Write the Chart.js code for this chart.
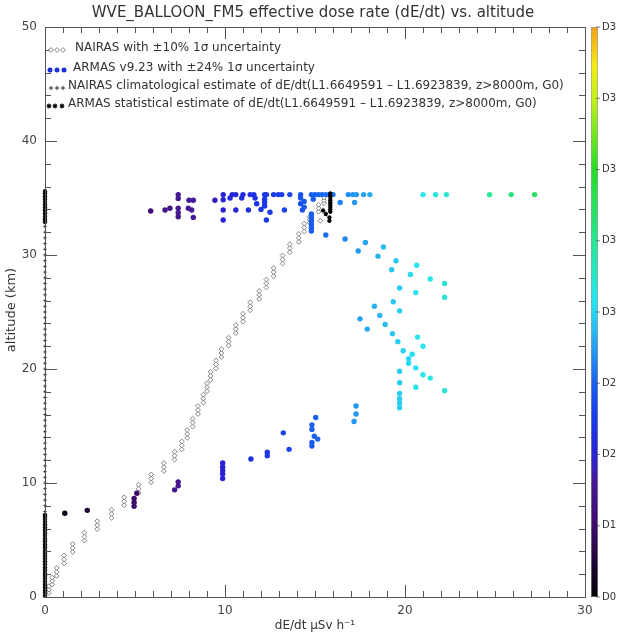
<!DOCTYPE html>
<html>
<head>
<meta charset="utf-8">
<script src="https://cdn.jsdelivr.net/npm/chart.js@4.4.0/dist/chart.umd.min.js"></script>
<style>
  html, body { margin: 0; padding: 0; background: #fff; }
</style>
</head>
<body>
<canvas id="grafico" width="625" height="637"></canvas>
<script>
// NAIRAS diamonds: one x per altitude group, the altitudes of the group
const nairasX = [0.22, 0.4, 0.65, 1.06, 1.54, 2.19, 2.9, 3.7, 4.4, 5.2, 5.9, 6.6, 7.2, 7.6, 7.9, 8.2, 8.5, 8.8,
  9.0, 9.2, 9.5, 9.8, 10.2, 10.6, 11.0, 11.4, 11.9, 12.3, 12.7, 13.2, 13.6, 14.1, 14.4, 14.7, 15.2, 15.5, 15.3];
const nairasY = [
  [0.35, 0.65, 0.95], [1.1, 1.4, 1.7], [1.85, 2.2, 2.55], [2.95, 3.3, 3.65], [3.95, 4.3, 4.65],
  [4.95, 5.3, 5.65], [5.95, 6.3, 6.65], [6.95, 7.3, 7.65], [8.05, 8.4, 8.75], [9.15, 9.5, 9.85],
  [10.05, 10.4, 10.75], [11.05, 11.4, 11.75], [12.05, 12.4, 12.75], [12.95, 13.3, 13.65], [13.95, 14.3, 14.65],
  [14.95, 15.3, 15.65], [16.05, 16.4, 16.75], [17.05, 17.4, 17.75], [18.05, 18.4, 18.75], [19.05, 19.4, 19.75],
  [20.05, 20.4, 20.75], [21.05, 21.4, 21.75], [22.05, 22.4, 22.75], [23.15, 23.5, 23.85], [24.15, 24.5, 24.85],
  [25.15, 25.5, 25.85], [26.15, 26.5, 26.85], [27.15, 27.5, 27.85], [28.15, 28.5, 28.85], [29.25, 29.6, 29.95],
  [30.25, 30.6, 30.95], [31.15, 31.5, 31.85], [32.05, 32.4, 32.75], [32.85, 33.1, 33.35], [33.8, 34.1, 34.4],
  [34.55, 34.8, 35.05], [33.0]
];

// ARMAS measurements (dE/dt, altitude)
const armasX = [
  1.1, 2.35, 4.95, 4.95, 4.95, 5.1, 7.2, 7.4, 7.4, 9.87, 9.87, 9.87, 9.87, 9.87, 11.44, 12.35, 12.35,
  13.24, 13.56, 14.83, 14.83, 15.15, 14.96, 14.83, 14.83, 15.04, 17.17, 17.28, 17.28,
  19.7, 19.7, 19.7, 19.7, 22.2, 20.6, 19.7, 21.4, 21.0, 19.7, 20.6, 20.2, 20.2, 20.4, 19.9, 21.0, 19.6,
  20.7, 19.3, 17.9, 18.9, 17.5, 18.6, 19.7, 18.3, 19.35, 22.2, 20.6, 19.7, 22.2, 21.4, 20.3, 19.26,
  20.65, 19.5, 18.5, 17.4, 18.8, 17.8, 16.67, 15.6,
  14.8, 14.8, 14.8, 14.8, 14.8, 14.8,
  7.4, 9.9, 10.4, 10.6, 11.0, 11.4, 11.6, 12.2, 12.3, 12.7, 12.96, 13.15, 13.6, 14.2, 14.8, 15.0, 15.2,
  15.4, 15.6, 15.8, 16.0, 16.85, 17.1, 17.3, 17.7, 18.05, 21.0, 21.7, 22.3, 24.7, 25.9, 27.2,
  7.4, 8.0, 8.24, 9.44, 9.9, 10.28, 10.93, 11.67, 11.76, 12.2, 12.2, 12.2, 14.2, 14.2, 14.4, 14.9, 16.4, 17.2,
  5.87, 6.67, 6.94, 7.4, 7.4, 7.4, 7.96, 8.15, 8.24, 9.9, 10.6, 11.3, 12.0, 12.5, 13.3, 14.3, 14.4,
  9.9, 12.3
];
const armasY = [
  7.35, 7.6, 7.95, 8.3, 8.65, 9.1, 9.4, 9.75, 10.1, 10.4, 10.8, 11.1, 11.4, 11.75, 12.1, 12.4, 12.7,
  14.4, 12.95, 13.25, 13.55, 13.85, 14.1, 14.7, 15.1, 15.75, 15.4, 16.05, 16.75,
  16.6, 17.0, 17.4, 17.85, 18.1, 18.4, 18.8, 19.2, 19.5, 19.8, 20.1, 20.5, 20.9, 21.3, 21.6, 22.0, 22.4,
  22.8, 23.1, 23.5, 23.9, 24.4, 24.7, 25.1, 25.5, 25.9, 26.3, 26.7, 27.1, 27.5, 27.9, 28.3, 28.7,
  29.1, 29.5, 29.9, 30.35, 30.7, 31.1, 31.4, 31.75,
  32.1, 32.4, 32.7, 33.0, 33.3, 33.6,
  35.3, 35.3, 35.3, 35.3, 35.3, 35.3, 35.3, 35.3, 35.3, 35.3, 35.3, 35.3, 35.3, 35.3, 35.3, 35.3, 35.3,
  35.3, 35.3, 35.3, 35.3, 35.3, 35.3, 35.3, 35.3, 35.3, 35.3, 35.3, 35.3, 35.3, 35.3, 35.3,
  34.95, 34.8, 34.8, 34.8, 34.85, 35.0, 35.0, 35.0, 34.5, 34.9, 34.6, 34.3, 35.0, 34.5, 34.7, 34.9, 34.6, 34.6,
  33.86, 33.95, 34.1, 34.1, 33.7, 33.35, 34.1, 33.95, 33.3, 33.95, 33.95, 33.95, 34.0, 33.75, 33.95, 33.95, 34.2,
  33.07, 33.07
];

// NAIRAS climatological (+) along the left axis
const climY = [0.5, 1, 1.5, 2, 2.5, 3, 3.5, 4, 4.5, 5, 5.5, 6, 6.5, 7, 7.5, 8, 8.5, 9, 9.5, 10, 10.5, 11, 11.5, 12,
  12.5, 13, 13.5, 14, 14.5, 15, 15.5, 16, 16.5, 17, 17.5, 18, 18.5, 19, 19.5, 20, 20.5, 21, 21.5, 22, 22.5, 23,
  23.5, 24, 24.5, 25, 25.5, 26, 26.5, 27, 27.5, 28, 28.5, 29, 29.5, 30, 30.5, 31, 31.5, 32, 32.5, 33, 33.5, 34,
  34.5, 35, 35.5];
// ARMAS statistical (*)
const statX = [0, 0, 0, 0, 0, 0, 0, 0, 0, 0, 0, 0, 0, 0, 0, 0, 0, 0, 0, 0, 0, 0, 0, 0, 0, 0, 0, 0, 0, 0,
  0, 0, 0, 0, 0, 0, 0, 0, 0, 0, 0, 0,
  15.85, 15.85, 15.85, 15.85, 15.85, 15.85, 15.85, 15.85, 15.85, 15.45, 15.6, 15.8, 15.8];
const statY = [0.1, 0.35, 0.6, 0.85, 1.1, 1.35, 1.6, 1.85, 2.1, 2.35, 2.6, 2.85, 3.1, 3.35, 3.6, 3.85, 4.1,
  4.35, 4.6, 4.85, 5.1, 5.35, 5.6, 5.85, 6.1, 6.35, 6.6, 6.85, 7.1, 7.2,
  32.9, 33.15, 33.4, 33.65, 33.9, 34.15, 34.4, 34.65, 34.9, 35.15, 35.4, 35.6,
  33.8, 34.0, 34.2, 34.4, 34.6, 34.8, 35.0, 35.2, 35.4, 33.9, 33.6, 33.3, 33.0];

const xTicks = [0, 10, 20, 30];
const yTicks = [0, 10, 20, 30, 40, 50];
const barLabels = ['D3', 'D3', 'D3', 'D3', 'D3', 'D2', 'D2', 'D1', 'D0'];
const legendTexts = [
  'NAIRAS with \u00b110% 1\u03c3 uncertainty',
  'ARMAS v9.23 with \u00b124% 1\u03c3 uncertainty',
  'NAIRAS climatological estimate of dE/dt(L1.6649591 \u2013 L1.6923839, z>8000m, G0)',
  'ARMAS statistical estimate of dE/dt(L1.6649591 \u2013 L1.6923839, z>8000m, G0)'
];
const doseMax = 40;

// paleta da barra de cores (embaixo -> em cima)
const paleta = [
  [0.00, [0, 0, 0]], [0.12, [60, 12, 105]], [0.20, [72, 25, 150]], [0.25, [40, 35, 215]],
  [0.32, [25, 60, 235]], [0.38, [25, 100, 240]], [0.45, [40, 170, 240]], [0.52, [40, 230, 240]],
  [0.62, [40, 230, 150]], [0.75, [40, 220, 40]], [0.87, [190, 240, 30]], [0.93, [245, 235, 20]],
  [1.00, [245, 160, 30]]
];
function corDe(v) {
  const t = Math.max(0, Math.min(1, v / doseMax));
  for (let i = 1; i < paleta.length; i++) {
    if (t <= paleta[i][0]) {
      const [t0, c0] = paleta[i - 1], [t1, c1] = paleta[i];
      const f = (t - t0) / (t1 - t0);
      const c = c0.map((a, k) => Math.round(a + (c1[k] - a) * f));
      return 'rgb(' + c.join(',') + ')';
    }
  }
  return 'rgb(245,160,30)';
}

const nairasPts = [];
nairasX.forEach((x, i) => nairasY[i].forEach(y => nairasPts.push({x: x, y: y})));
const armasPts = armasX.map((x, i) => ({x: x, y: armasY[i]}));
const climPts = climY.map(y => ({x: 0, y: y}));
const statPts = statX.map((x, i) => ({x: x, y: statY[i]}));

const fonte = '"DejaVu Sans", Verdana, sans-serif';

// moldura, marcas, título, legenda e barra de cores
const extras = {
  id: 'extras',
  afterDraw(chart) {
    const {ctx, chartArea: a, scales: {x, y}} = chart;
    ctx.save();
    ctx.strokeStyle = '#555';
    ctx.lineWidth = 1;
    ctx.strokeRect(Math.round(a.left) + 0.5, Math.round(a.top) + 0.5, Math.round(a.width), Math.round(a.height));
    ctx.beginPath();
    for (let v = 0; v <= 30; v++) {
      const px = Math.round(x.getPixelForValue(v)) + 0.5;
      const len = v % 10 === 0 ? 12 : 6;
      ctx.moveTo(px, a.bottom); ctx.lineTo(px, a.bottom - len);
      ctx.moveTo(px, a.top); ctx.lineTo(px, a.top + len);
    }
    for (let v = 0; v <= 50; v += 2) {
      const py = Math.round(y.getPixelForValue(v)) + 0.5;
      const len = v % 10 === 0 ? 12 : 6;
      ctx.moveTo(a.left, py); ctx.lineTo(a.left + len, py);
      ctx.moveTo(a.right, py); ctx.lineTo(a.right - len, py);
    }
    ctx.stroke();

    // título
    ctx.fillStyle = '#333';
    ctx.font = '15px ' + fonte;
    ctx.textAlign = 'center';
    ctx.textBaseline = 'middle';
    ctx.fillText('WVE_BALLOON_FM5 effective dose rate (dE/dt) vs. altitude', (a.left + a.right) / 2 - 2, 13);

    // títulos dos eixos
    ctx.font = '12px ' + fonte;
    ctx.fillText('dE/dt \u03bcSv h\u207b\u00b9', (a.left + a.right) / 2, 626);
    ctx.save();
    ctx.translate(12, (a.top + a.bottom) / 2 - 2);
    ctx.rotate(-Math.PI / 2);
    ctx.font = '13px ' + fonte;
    ctx.fillText('altitude (km)', 0, 0);
    ctx.restore();

    // legenda
    const linhas = [48, 68, 86, 104];
    const simb = [
      {pointStyle: 'rectRot', radius: 2.4, borderWidth: 0.8, fill: '#fff', stroke: '#666', xs: [51, 57, 63], tx: 75},
      {pointStyle: 'circle', radius: 2.5, borderWidth: 0, fill: '#1a30d8', stroke: '#1a30d8', xs: [50, 57, 64], tx: 73},
      {pointStyle: 'cross', radius: 2.2, borderWidth: 0.9, fill: '#000', stroke: '#222', xs: [51, 57, 63], tx: 68},
      {pointStyle: 'star', radius: 2.4, borderWidth: 1.1, fill: '#000', stroke: '#000', xs: [49, 55, 62], tx: 68}
    ];
    ctx.textAlign = 'left';
    ctx.font = '12px ' + fonte;
    simb.forEach((s, i) => {
      ctx.fillStyle = s.fill;
      ctx.strokeStyle = s.stroke;
      ctx.lineWidth = s.borderWidth;
      s.xs.forEach(px => Chart.helpers.drawPoint(ctx, s, px, linhas[i] + 2));
      ctx.fillStyle = '#333';
      ctx.fillText(legendTexts[i], s.tx, linhas[i]);
    });

    // barra de cores
    const bx = 591, bw = 7;
    const g = ctx.createLinearGradient(0, a.bottom, 0, a.top);
    paleta.forEach(([t, c]) => g.addColorStop(t, 'rgb(' + c.join(',') + ')'));
    ctx.fillStyle = g;
    ctx.fillRect(bx, a.top, bw, a.bottom - a.top);
    ctx.strokeStyle = '#999';
    ctx.lineWidth = 0.6;
    ctx.strokeRect(bx + 0.5, a.top + 0.5, bw - 1, a.bottom - a.top - 1);
    ctx.font = '10px ' + fonte;
    ctx.fillStyle = '#333';
    ctx.textBaseline = 'middle';
    barLabels.forEach((lab, i) => {
      const py = a.top + (a.bottom - a.top) * i / (barLabels.length - 1);
      ctx.strokeStyle = '#333';
      ctx.beginPath();
      ctx.moveTo(bx + bw - 2, py); ctx.lineTo(bx + bw + 2, py);
      ctx.stroke();
      ctx.fillText(lab, bx + bw + 4, py);
    });
    ctx.restore();
  }
};

new Chart(document.getElementById('grafico').getContext('2d'), {
  type: 'scatter',
  data: {
    datasets: [
      {
        label: 'ARMAS statistical',
        data: statPts,
        pointStyle: 'star',
        radius: 2.2,
        borderWidth: 1.2,
        borderColor: '#000',
        backgroundColor: '#000',
        clip: false,
        order: 0
      },
      {
        label: 'ARMAS',
        data: armasPts,
        pointStyle: 'circle',
        radius: 2.7,
        borderWidth: 0,
        backgroundColor: armasX.map(corDe),
        order: 1
      },
      {
        label: 'NAIRAS',
        data: nairasPts,
        pointStyle: 'rectRot',
        radius: 2.4,
        borderWidth: 0.8,
        borderColor: '#666',
        backgroundColor: '#fff',
        order: 2
      },
      {
        label: 'NAIRAS climatological',
        data: climPts,
        pointStyle: 'cross',
        radius: 1.8,
        borderWidth: 0.8,
        borderColor: '#222',
        clip: false,
        order: 3
      }
    ]
  },
  options: {
    responsive: false,
    devicePixelRatio: 1,
    animation: false,
    layout: { padding: { top: 27, right: 40, left: 0, bottom: 0 } },
    plugins: { legend: { display: false }, tooltip: { enabled: false }, title: { display: false } },
    scales: {
      x: {
        type: 'linear', min: 0, max: 30,
        afterFit: s => { s.height = 40; },
        afterBuildTicks: s => { s.ticks = xTicks.map(v => ({value: v})); },
        grid: { display: false, drawTicks: false },
        border: { display: false },
        ticks: { padding: 7, color: '#444', font: { family: fonte, size: 12 } }
      },
      y: {
        type: 'linear', min: 0, max: 50,
        afterFit: s => { s.width = 45; },
        afterBuildTicks: s => { s.ticks = yTicks.map(v => ({value: v})); },
        grid: { display: false, drawTicks: false },
        border: { display: false },
        ticks: { padding: 8, color: '#444', font: { family: fonte, size: 12 } }
      }
    }
  },
  plugins: [extras]
});
</script>
</body>
</html>
